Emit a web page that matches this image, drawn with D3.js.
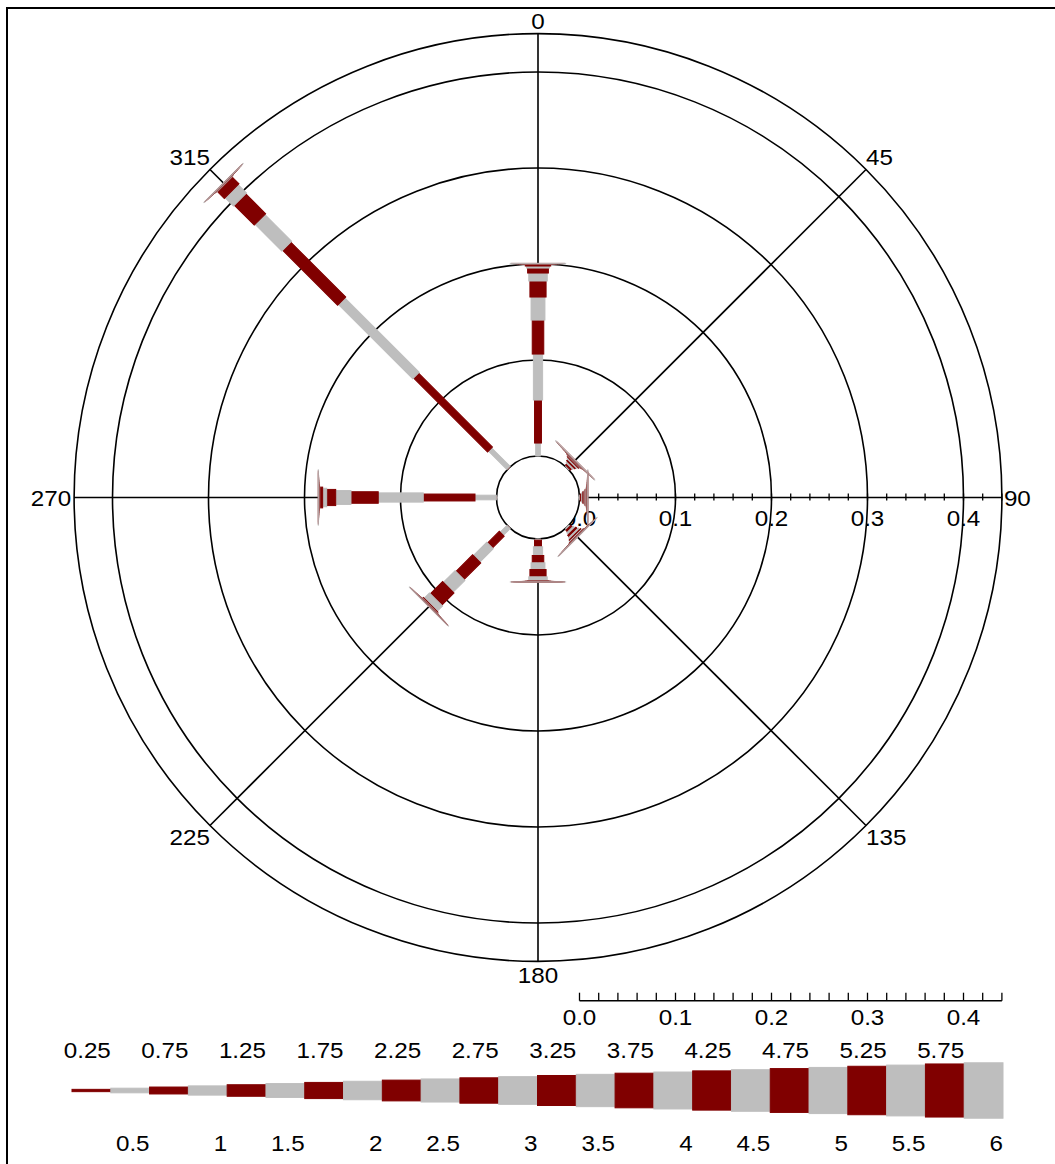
<!DOCTYPE html>
<html>
<head>
<meta charset="utf-8">
<script src="https://cdn.jsdelivr.net/npm/d3@7"></script>
<style>
  html, body { margin: 0; padding: 0; background: #fff; }
  svg text { font-family: "Liberation Sans", Arial, sans-serif; fill: #000; }
</style>
</head>
<body>
<svg id="chart" width="1055" height="1164"></svg>
<script>
// Direction of each paddle (degrees, clockwise from north) and its label
const directions = [0, 45, 90, 135, 180, 225, 270, 315];
const directionLabels = ["0", "45", "90", "135", "180", "225", "270", "315"];

// Upper bound of each speed class (24 classes of 0.25)
const speedBreaks = [0.25, 0.5, 0.75, 1, 1.25, 1.5, 1.75, 2, 2.25, 2.5, 2.75, 3,
                     3.25, 3.5, 3.75, 4, 4.25, 4.5, 4.75, 5, 5.25, 5.5, 5.75, 6];
const topLegendLabels = ["0.25", "0.75", "1.25", "1.75", "2.25", "2.75", "3.25", "3.75", "4.25", "4.75", "5.25", "5.75"];
const bottomLegendLabels = ["0.5", "1", "1.5", "2", "2.5", "3", "3.5", "4", "4.5", "5", "5.5", "6"];

// Relative frequency of each speed class, per direction
const freqN  = [0.0000, 0.0135, 0.0448, 0.0479, 0.0354, 0.0240, 0.0167, 0.0083, 0.0052, 0.0021, 0.0021, 0.00005,
                0.00005, 0.00005, 0.00005, 0.00005, 0.00005, 0.00005, 0.00005, 0.00005, 0.00005, 0.00005, 0.00005, 0.00005];
const freqNE = [0.0000, 0.0010, 0.0020, 0.0020, 0.0018, 0.0015, 0.0010, 0.0007, 0.0005, 0.0002, 0.0002, 0.00005,
                0.00005, 0.00005, 0.00005, 0.00005, 0.00005, 0.00005, 0.00005, 0.00005, 0.00005, 0.00005, 0.00005, 0.00005];
const freqE  = [0.0000, 0.0008, 0.0015, 0.0012, 0.0013, 0.0010, 0.0008, 0.0006, 0.0004, 0.0002, 0.0002, 0.00005,
                0.00005, 0.00005, 0.00005, 0.00005, 0.00005, 0.00005, 0.00005, 0.00005, 0.00005, 0.00005, 0.00005, 0.00005];
const freqSE = [0.0000, 0.0015, 0.0025, 0.0025, 0.0025, 0.0020, 0.0015, 0.0010, 0.0005, 0.0002, 0.0002, 0.00005,
                0.00005, 0.00005, 0.00005, 0.00005, 0.00005, 0.00005, 0.00005, 0.00005, 0.00005, 0.00005, 0.00005, 0.00005];
const freqS  = [0.0000, 0.0012, 0.0069, 0.0091, 0.0076, 0.0070, 0.0076, 0.0039, 0.0004, 0.0002, 0.0002, 0.00005,
                0.00005, 0.00005, 0.00005, 0.00005, 0.00005, 0.00005, 0.00005, 0.00005, 0.00005, 0.00005, 0.00005, 0.00005];
const freqSW = [0.0002, 0.0100, 0.0173, 0.0196, 0.0246, 0.0172, 0.0181, 0.0079, 0.0010, 0.0005, 0.0004, 0.00005,
                0.00005, 0.00005, 0.00005, 0.00005, 0.00005, 0.00005, 0.00005, 0.00005, 0.00005, 0.00005, 0.00005, 0.00005];
const freqW  = [0.0002, 0.0222, 0.0539, 0.0469, 0.0284, 0.0159, 0.0094, 0.0042, 0.0031, 0.0004, 0.0004, 0.00005,
                0.00005, 0.00005, 0.00005, 0.00005, 0.00005, 0.00005, 0.00005, 0.00005, 0.00005, 0.00005, 0.00005, 0.00005];
const freqNW = [0.0003, 0.0272, 0.1090, 0.1095, 0.0810, 0.0394, 0.0294, 0.0123, 0.0102, 0.0006, 0.0005, 0.00005,
                0.00005, 0.00005, 0.00005, 0.00005, 0.00005, 0.00005, 0.00005, 0.00005, 0.00005, 0.00005, 0.00005, 0.00005];
const frequencies = [freqN, freqNE, freqE, freqSE, freqS, freqSW, freqW, freqNW];

// Frequency grid rings and axis ticks
const ringValues = [0.1, 0.2, 0.3, 0.4, 0.44];
const axisLabels = [0, 0.1, 0.2, 0.3, 0.4];
const axisTicks = d3.range(0, 0.4401, 0.02);

const colors = ["#800000", "#bebebe"];

const svg = d3.select("#chart");
const cx = 538, cy = 497.5;
const fontSize = 22, stretch = 1.1;

// radial scale: frequency -> distance from centre (calm circle at 0)
const r = d3.scaleLinear().domain([0, 0.44]).range([41.5, 41.5 + 0.44 * 960]);
// paddle width by speed
const w = d3.scaleLinear().domain([0, 6]).range([0, 55.4]);
// legend position by speed
const lx = d3.scaleLinear().domain([0, 6]).range([72, 1003]);

// place text with a slightly widened face
function label(parent, x, y, txt, anchor) {
  return parent.append("text")
    .attr("transform", `translate(${x},${y}) scale(${stretch},1)`)
    .attr("text-anchor", anchor)
    .style("font-size", fontSize + "px")
    .text(txt);
}

// frame
svg.append("path")
  .attr("d", "M7,1170V8H1060")
  .attr("fill", "none").attr("stroke", "#000").attr("stroke-width", 2);

const g = svg.append("g").attr("transform", `translate(${cx},${cy})`);

// rings
g.selectAll("circle.ring").data(ringValues).enter().append("circle")
  .attr("class", "ring")
  .attr("r", d => r(d))
  .attr("fill", "none").attr("stroke", "#000").attr("stroke-width", 1.6);

// spokes
g.selectAll("line.spoke").data(directions).enter().append("line")
  .attr("class", "spoke")
  .attr("transform", d => `rotate(${d})`)
  .attr("x1", 0).attr("x2", 0)
  .attr("y1", -r(0)).attr("y2", -r(0.44))
  .attr("stroke", "#000").attr("stroke-width", 1.6);

// ticks and labels on the east spoke
g.selectAll("line.tick").data(axisTicks).enter().append("line")
  .attr("x1", d => r(d)).attr("x2", d => r(d))
  .attr("y1", -4).attr("y2", 3)
  .attr("stroke", "#000").attr("stroke-width", 1.3);
axisLabels.forEach(d => label(g, r(d), 28, d3.format(".1f")(d), "middle"));

// direction labels just outside the outer ring
const R = r(0.44);
directions.forEach((d, i) => {
  const a = d * Math.PI / 180;
  const x = R * Math.sin(a), y = -R * Math.cos(a);
  let anchor = "middle", dx = 0, dy = 0;
  if (d === 0) { dy = -4.5; }
  else if (d === 180) { dy = 21.5; }
  else if (d === 90) { anchor = "start"; dx = 2; dy = 8.4; }
  else if (d === 270) { anchor = "end"; dx = -3; dy = 8.4; }
  else if (d === 45) { anchor = "start"; dy = -4.5; }
  else if (d === 315) { anchor = "end"; dy = -4.5; }
  else if (d === 135) { anchor = "start"; dy = 19.5; }
  else if (d === 225) { anchor = "end"; dy = 19.5; }
  label(g, x + dx, y + dy, directionLabels[i], anchor);
});

// calm circle
g.append("circle").attr("r", r(0))
  .attr("fill", "#fff").attr("stroke", "#000").attr("stroke-width", 1.6);

// paddles: one rectangle per speed class, length = frequency, width = speed
directions.forEach((dir, i) => {
  const f = frequencies[i];
  const cum = d3.cumsum(f);
  const segs = f.map((v, k) => ({ k, from: k === 0 ? 0 : cum[k - 1], to: cum[k] }));
  g.append("g").attr("transform", `rotate(${dir})`)
    .selectAll("rect").data(segs.filter(s => s.to > s.from)).enter().append("rect")
    .attr("x", s => -w(speedBreaks[s.k]) / 2)
    .attr("width", s => w(speedBreaks[s.k]))
    .attr("y", s => -r(s.to))
    .attr("height", s => r(s.to) - r(s.from))
    .attr("fill", s => colors[s.k % 2])
    .attr("stroke", s => colors[s.k % 2])
    .attr("stroke-width", 1);
});

// frequency scale under the rose
const sy = 1000.7;
svg.append("line")
  .attr("x1", cx + r(0)).attr("x2", cx + r(0.44))
  .attr("y1", sy).attr("y2", sy)
  .attr("stroke", "#000").attr("stroke-width", 1.5);
svg.selectAll("line.stick").data(axisTicks).enter().append("line")
  .attr("x1", d => cx + r(d)).attr("x2", d => cx + r(d))
  .attr("y1", sy).attr("y2", sy - 8)
  .attr("stroke", "#000").attr("stroke-width", 1.3);
axisLabels.forEach(d => label(svg, cx + r(d), 1025, d3.format(".1f")(d), "middle"));

// speed legend bar
const ly = 1090.5;
svg.selectAll("rect.leg").data(speedBreaks).enter().append("rect")
  .attr("x", (d, k) => lx(k === 0 ? 0 : speedBreaks[k - 1]))
  .attr("width", (d, k) => lx(d) - lx(k === 0 ? 0 : speedBreaks[k - 1]))
  .attr("y", d => ly - w(d) / 2)
  .attr("height", d => w(d))
  .attr("fill", (d, k) => colors[k % 2])
  .attr("stroke", (d, k) => colors[k % 2])
  .attr("stroke-width", 1);

topLegendLabels.forEach(d => label(svg, lx(+d), 1058, d, "end"));
bottomLegendLabels.forEach(d => label(svg, lx(+d), 1150.5, d, "end"));
</script>
</body>
</html>
